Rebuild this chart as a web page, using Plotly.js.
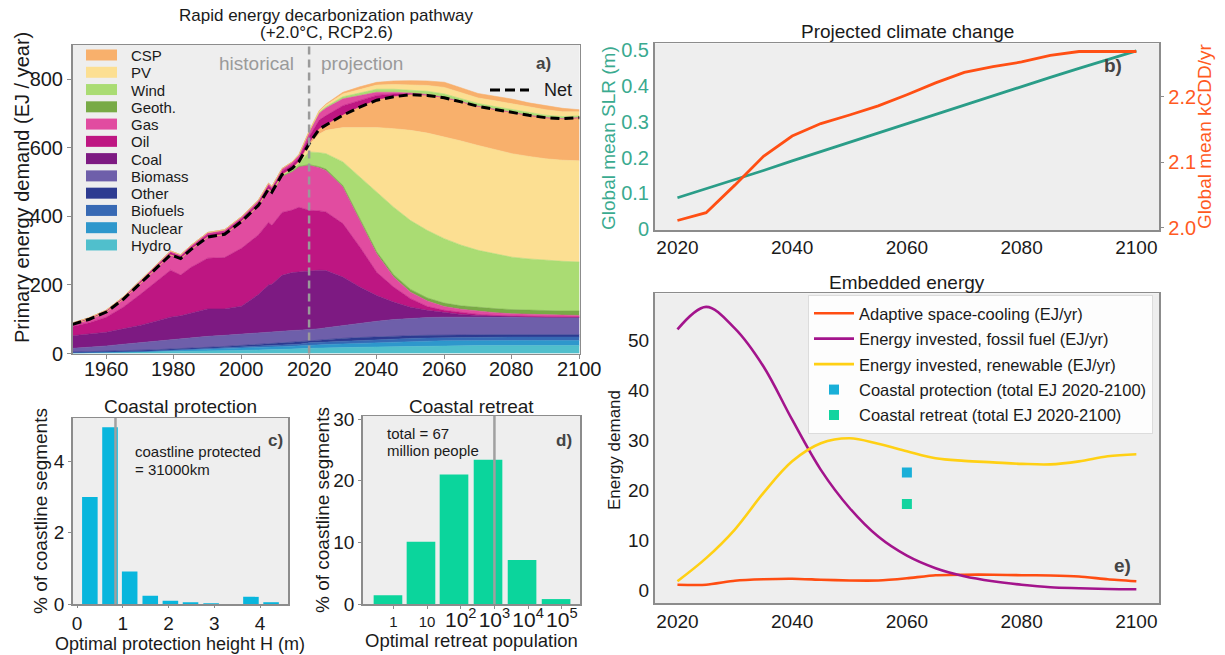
<!DOCTYPE html>
<html>
<head>
<meta charset="utf-8">
<script src="https://cdn.plot.ly/plotly-3.0.1.min.js"></script>
<style>html,body{margin:0;padding:0;background:#fff;}#chart{width:1225px;height:655px;}</style>
</head>
<body>
<div id="chart"></div>
<script>
// ---------- Panel a: primary energy (EJ / year) ----------
const years = [1950,1955,1960,1965,1970,1975,1979,1982,1985,1990,1995,2000,2005,2008,2009,2012,2015,2017,2020,2023,2025,2030,2035,2040,2045,2050,2055,2060,2065,2070,2075,2080,2085,2090,2095,2100];
const hydro    = [2,2.5,3,4,5,6,7,7,7.5,8,8.5,9,10,10.5,10.7,11.5,12.5,13.5,15,16,16.5,17,18,19,20,21,21.5,22,22.5,23,23,23,23,23,23,23];
const nuclear  = [0,0,0,0.2,0.5,1.5,2,3.5,4.5,6,7.5,8,8.5,8.5,8.6,8.5,8.5,8,9,9.5,9.5,11,12,13,13.5,14,14.5,15,15,15,15,15,15,15,15,15];
const biofuels = [0,0,0,0.2,0.5,0.5,1,1,1,1,1,2,2.5,3.5,3.7,5,5.5,5.5,7,7,7.5,8,8.5,9,9,9,9,9,9.5,9.5,10,10,10,10,10,10];
const other    = [2,2.5,3,3.1,3,3,3,2.5,2.5,3,3.5,4,5,5.5,5.7,6,6.5,7.5,7,8,8,8,8,8,8,8,8,8,7.5,7.5,7,7,7,7,7,7];
const biomass  = [11,13,16,19.5,23,26,28,30,30.5,32,32.5,34,34,34,33.8,34,34,33.5,31,31.5,33.5,38,41.5,45,48.5,51,52,52,51.5,51,51,51,51,51,51,51];
const coal     = [37,39,40,45,50,58,65,66,72,80,77,81,112,138,139.5,163,169,170,173,171,167,141,106,75,51,32,21,13,8,5,3,2,1,0.5,0.3,0.2];
const oil      = [27,33,44,63,90,117,137,119,133,148,150,169,174,182.5,171.8,183.5,182.5,188.5,176,173,171,156,117,68,44,25,11,7,5,3,2,1,1,0.5,0.3,0.3];
const gas      = [6,10,15,23,32,40,45,48,52,62,68,78,85,95,94,105,112,118,131,126,121,107,77,54,29,19,16,11,10,9,8,7,6,6,5.4,4.5];
const geoth    = [0,0,0,0,0,0,0,0,0,0,0,0,0.3,0.5,0.5,1,1,1.5,2,3,4,4,5,6,7,8,9,10,10,11,12,12,12,12,12,13];
const wind     = [0,0,0,0,0,0,0,0,0,0,0,0,0.5,1.5,2,3,5,8,37,41,45,69,122,174,197,201,197,188,177,167,159,153,150,147,145,143];
const pv       = [0,0,0,0,0,0,0,0,0,0,0,0,0,0.5,0.7,1.5,3,5,20,54,68,100,145,188,229,263,284,297,304,306,305,302,299,296,295,295];
const csp      = [0,0,0,0,0,0,0,0,0,0,0,0,0,0,0,0,0.5,1,4,15,15,36,59,80,93,104,110,114,114,114,117,120,120,120,121,126];
const netDemand= [85,100,121,158,204,252,288,277,303,340,348,385,432,480,471,522,540,560,612,655,666,695,719,739,749,755,753,746,734,721,712,703,695,688,685,688];
// energy invested, drawn above the net line
const invOil   = [2,2.5,3,4,5,6,6.5,6.5,7,7.5,7.5,8,9,9.5,9.5,10,10.5,11,20,26,28,28,20,14,8,3,1.5,0.8,0.5,0.3,0.2,0.1,0.1,0.1,0.1,0.1];
const invGas   = [2,2,2.5,3,3.5,4,4.5,4.5,5,5.5,5.5,6,6.5,7,7,7.5,8,8.5,14,20,22,20,14,9,5,2,1,0.5,0.3,0.2,0.1,0.1,0.1,0.1,0.1,0.1];
const invWind  = [0,0,0,0,0,0,0,0,0,0,0,0,0,0,0,0,0.3,0.5,1,3,4,6,8,9,9,9,9.5,10,9,8,8,8,7,7,6,5];
const invPV    = [0,0,0,0,0,0,0,0,0,0,0,0,0,0,0,0,0.2,0.5,1,3,5,8,10,12,14,15,17,19,17,16,17,17,16,16,14,12];
const invCSP   = [0,0,0,0,0,0,0,0,0,0,0,0,0,0,0,0,0,0.1,0.5,2,3,5,7,8,10,12,13,15,14,13,13,14,13,12,10,6];
const sourceNames = ['Hydro','Nuclear','Biofuels','Other','Biomass','Coal','Oil','Gas','Geoth.','Wind','PV','CSP'];
const aTicksX = [1960,1980,2000,2020,2040,2060,2080,2100];
const aTicksY = [0,200,400,600,800];

// ---------- Panel b: projected climate change ----------
const climYears = [2020,2025,2030,2035,2040,2045,2050,2055,2060,2065,2070,2075,2080,2085,2090,2095,2100];
const slr  = [0.088,0.113,0.138,0.164,0.191,0.217,0.243,0.269,0.296,0.322,0.348,0.374,0.399,0.424,0.449,0.474,0.498];
const kcdd = [2.011,2.023,2.065,2.109,2.140,2.159,2.172,2.186,2.203,2.221,2.237,2.246,2.253,2.263,2.269,2.269,2.269];
const slrTicks = [0,0.1,0.2,0.3,0.4,0.5];
const cddTicks = [2.0,2.1,2.2];
const projTicks = [2020,2040,2060,2080,2100];

// ---------- Panel c: coastal protection ----------
const protHeight = [0.28,0.72,1.15,1.6,2.04,2.48,2.93,3.37,3.8,4.24];
const protPct    = [3.0,4.96,0.91,0.23,0.094,0.047,0.02,0,0.2,0.05];
const protMedian = 0.84;

// ---------- Panel d: coastal retreat ----------
const retreatBin = [-0.16,0.82,1.8,2.81,3.82,4.83];
const retreatPct = [1.4,10.1,21.0,23.4,7.15,0.8];
const retreatMedian = 3.0;
const retreatTickVals = [0,1,2,3,4,5];
const retreatTickText = ['1','10','<span style="font-size:21px">10<sup>2</sup></span>','<span style="font-size:21px">10<sup>3</sup></span>','<span style="font-size:21px">10<sup>4</sup></span>','<span style="font-size:21px">10<sup>5</sup></span>'];

// ---------- Panel e: embedded energy ----------
const eYears    = [2020,2025,2030,2035,2040,2045,2050,2055,2060,2065,2070,2075,2080,2085,2090,2095,2100];
const cooling   = [1.2,1.2,2.0,2.3,2.4,2.2,2.05,2.05,2.5,3.1,3.2,3.2,3.1,3.05,2.85,2.3,1.9];
const fossilInv = [52.1,56.6,52.3,44.7,34.1,24.1,16.5,10.8,7.0,4.5,2.9,1.9,1.2,0.7,0.5,0.35,0.3];
const renewInv  = [1.9,6.5,12.2,19.5,25.8,29.4,30.4,29.3,27.8,26.4,25.9,25.6,25.3,25.2,25.8,26.8,27.2];
const coastalYear = [2060];
const protectionEJ = [23.6];
const retreatEJ = [17.3];

// ---------- styling ----------
const FONT = 'Liberation Sans, Arial, Helvetica, sans-serif';
const W = 1225, H = 655;
const fx = p => p / W;
const fy = p => 1 - p / H;
const colors = {Hydro:'#50bfcc',Nuclear:'#2e97cc',Biofuels:'#3769b4',Other:'#2d3b91',Biomass:'#6e5faa',Coal:'#7d1a82',Oil:'#be1682',Gas:'#e14ca0','Geoth.':'#78aa46',Wind:'#aadc73',PV:'#fcdf92',CSP:'#f8b06c'};
const teal = '#2a9d88', tealText = '#3aaa8f', orange = '#ff4f14';

const traces = [];
const layers = [hydro,nuclear,biofuels,other,biomass,coal,oil,gas,geoth,wind,pv,csp];
layers.forEach((arr,i) => {
  const c = colors[sourceNames[i]];
  traces.push({x:years, y:arr, type:'scatter', mode:'lines', stackgroup:'a', name:sourceNames[i],
    line:{width:0.6, color:c}, fillcolor:c, showlegend:false, hoverinfo:'skip', xaxis:'x', yaxis:'y'});
});
[[invOil,'Oil'],[invGas,'Gas'],[invWind,'Wind'],[invPV,'PV'],[invCSP,'CSP']].forEach(([arr,nm]) => {
  const c = colors[nm];
  traces.push({x:years, y:arr, type:'scatter', mode:'lines', stackgroup:'a', name:nm+' invested',
    line:{width:0.6, color:c}, fillcolor:c, showlegend:false, hoverinfo:'skip', xaxis:'x', yaxis:'y'});
});
traces.push({x:years, y:netDemand, type:'scatter', mode:'lines', name:'Net', line:{color:'#000', width:3, dash:'9px,5px'}, showlegend:false, xaxis:'x', yaxis:'y'});

// panel b
traces.push({x:climYears, y:slr, type:'scatter', mode:'lines', name:'SLR', line:{color:teal, width:2.8}, showlegend:false, xaxis:'x2', yaxis:'y2'});
traces.push({x:climYears, y:kcdd, type:'scatter', mode:'lines', name:'kCDD', line:{color:orange, width:2.8}, showlegend:false, xaxis:'x2', yaxis:'y3'});

// panel c
traces.push({x:protHeight, y:protPct, type:'bar', name:'protection', width:0.34, marker:{color:'#08b6dd', line:{width:0}}, showlegend:false, xaxis:'x4', yaxis:'y4'});
// panel d
traces.push({x:retreatBin, y:retreatPct, type:'bar', name:'retreat', width:0.85, marker:{color:'#0bd59c', line:{width:0}}, showlegend:false, xaxis:'x5', yaxis:'y5'});

// panel e
traces.push({x:eYears, y:cooling, type:'scatter', mode:'lines', name:'Adaptive space-cooling (EJ/yr)', legendgroup:'g1', line:{color:'#ff4d12', width:2.6, shape:'spline', smoothing:0.6}, xaxis:'x6', yaxis:'y6'});
traces.push({x:eYears, y:fossilInv, type:'scatter', mode:'lines', name:'Energy invested, fossil fuel (EJ/yr)', legendgroup:'g2', line:{color:'#a3148c', width:2.6, shape:'spline'}, xaxis:'x6', yaxis:'y6'});
traces.push({x:eYears, y:renewInv, type:'scatter', mode:'lines', name:'Energy invested, renewable (EJ/yr)', legendgroup:'g3', line:{color:'#ffd014', width:2.6, shape:'spline'}, xaxis:'x6', yaxis:'y6'});
traces.push({x:coastalYear, y:protectionEJ, type:'scatter', mode:'markers', name:'Coastal protection (total EJ 2020-2100)', legendgroup:'g4', marker:{symbol:'square', size:10, color:'#19afd8'}, xaxis:'x6', yaxis:'y6'});
traces.push({x:coastalYear, y:retreatEJ, type:'scatter', mode:'markers', name:'Coastal retreat (total EJ 2020-2100)', legendgroup:'g5', marker:{symbol:'square', size:10, color:'#12d49f'}, xaxis:'x6', yaxis:'y6'});

const frame = {showline:true, mirror:true, linecolor:'#8c8c8c', linewidth:1.5, showgrid:false, zeroline:false, fixedrange:true};
const tf = (s,c) => ({family:FONT, size:s, color:c||'#1a1a1a'});

const layout = {
  width:W, height:H, margin:{l:0,r:0,t:0,b:0}, paper_bgcolor:'#ffffff', plot_bgcolor:'#eeeeee',
  font:{family:FONT, color:'#1a1a1a'}, showlegend:true,
  legend:{x:fx(808), y:fy(295), xanchor:'left', yanchor:'top', bgcolor:'rgba(255,255,255,0.85)', bordercolor:'#dcdcdc', borderwidth:1,
          font:tf(16.5), tracegroupgap:1, itemwidth:40},
  // panel a x tick labels are drawn as annotations on the x axis (see below) to sit close to the frame
  xaxis:Object.assign({}, frame, {domain:[fx(72.5),fx(579.5)], range:[1950,2100], anchor:'y', tickvals:aTicksX, ticks:'outside', ticklen:4, tickcolor:'#8c8c8c', showticklabels:false}),
  yaxis:Object.assign({}, frame, {domain:[fy(353.5),fy(45)], range:[0,900], anchor:'x', tickvals:aTicksY, ticks:'outside', ticklen:4, tickcolor:'#8c8c8c', tickfont:tf(20)}),
  xaxis2:Object.assign({}, frame, {domain:[fx(654.5),fx(1159.3)], range:[2016,2104], anchor:'y2', tickvals:projTicks, ticks:'', tickfont:tf(19), tickangle:0}),
  yaxis2:Object.assign({}, frame, {domain:[fy(230),fy(43.3)], range:[-0.002,0.519], anchor:'x2', tickvals:slrTicks, ticks:'', tickfont:tf(20,tealText)}),
  yaxis3:{overlaying:'y2', side:'right', anchor:'x2', range:[1.9965,2.2815], tickvals:cddTicks, tickformat:'.1f', showgrid:false, zeroline:false, showline:false,
          ticks:'outside', ticklen:4, tickcolor:'#8c8c8c', tickfont:tf(20,'#ff5a1f'), fixedrange:true},
  xaxis4:Object.assign({}, frame, {domain:[fx(72.7),fx(288)], range:[-0.095,4.61], anchor:'y4', tickvals:[0,1,2,3,4], ticks:'outside', ticklen:2, tickcolor:'#8c8c8c', tickfont:tf(19), tickangle:0}),
  yaxis4:Object.assign({}, frame, {domain:[fy(604),fy(418)], range:[0,5.22], anchor:'x4', tickvals:[0,2,4], ticks:'outside', ticklen:3, tickcolor:'#8c8c8c', tickfont:tf(19)}),
  xaxis5:Object.assign({}, frame, {domain:[fx(362.7),fx(580)], range:[-0.91,5.54], anchor:'y5', tickvals:retreatTickVals, ticktext:retreatTickText, ticks:'outside', ticklen:3, tickcolor:'#8c8c8c', tickfont:tf(15), tickangle:0}),
  yaxis5:Object.assign({}, frame, {domain:[fy(604),fy(416)], range:[0,30.5], anchor:'x5', tickvals:[0,10,20,30], ticks:'outside', ticklen:3, tickcolor:'#8c8c8c', tickfont:tf(19)}),
  xaxis6:Object.assign({}, frame, {domain:[fx(654.5),fx(1159.3)], range:[2016,2104], anchor:'y6', tickvals:projTicks, ticks:'', tickfont:tf(19), tickangle:0}),
  yaxis6:Object.assign({}, frame, {domain:[fy(603.3),fy(293.3)], range:[-2.5,59.3], anchor:'x6', tickvals:[0,10,20,30,40,50], ticks:'', tickfont:tf(19)}),
  shapes:[], annotations:[]
};

// vertical reference lines
layout.shapes.push({type:'line', xref:'x', yref:'y domain', x0:2020, x1:2020, y0:0, y1:1, line:{color:'#9a9a9a', width:2.5, dash:'8px,5px'}});
layout.shapes.push({type:'line', xref:'x4', yref:'y4 domain', x0:protMedian, x1:protMedian, y0:0, y1:1, line:{color:'#a0a0a0', width:2.5}});
layout.shapes.push({type:'line', xref:'x5', yref:'y5 domain', x0:retreatMedian, x1:retreatMedian, y0:0, y1:1, line:{color:'#a0a0a0', width:2.5}});

function ann(text, x, y, o) {
  o = o || {};
  layout.annotations.push({text:text, xref:'paper', yref:'paper', x:fx(x), y:fy(y), showarrow:false,
    xanchor:o.xa||'center', yanchor:'middle', textangle:o.angle||0,
    font:{family:FONT, size:o.size||19, color:o.color||'#1a1a1a'}});
}

// panel a x tick labels, placed on the x axis scale
aTicksX.forEach(v => {
  layout.annotations.push({text:String(v), xref:'x', yref:'paper', x:v, y:fy(369), showarrow:false,
    xanchor:'center', yanchor:'middle', font:{family:FONT, size:20, color:'#1a1a1a'}});
});

// panel a legend (manual patches)
const legendOrder = ['CSP','PV','Wind','Geoth.','Gas','Oil','Coal','Biomass','Other','Biofuels','Nuclear','Hydro'];
legendOrder.forEach((nm,i) => {
  const cy = 55 + 17.27*i;
  layout.shapes.push({type:'rect', xref:'paper', yref:'paper', x0:fx(86), x1:fx(117), y0:fy(cy+5.5), y1:fy(cy-5.5), fillcolor:colors[nm], line:{width:0}});
  ann(nm, 129, cy+0.5, {xa:'left', size:15});
});
// Net legend
layout.shapes.push({type:'line', xref:'paper', yref:'paper', x0:fx(490), x1:fx(529), y0:fy(90), y1:fy(90), line:{color:'#000', width:3, dash:'10px,5px'}});
ann('Net', 542, 90, {xa:'left', size:18});

// titles
ann('Rapid energy decarbonization pathway', 326, 15, {size:17});
ann('(+2.0°C, RCP2.6)', 326, 33, {size:17});
ann('Projected climate change', 907, 32, {size:19});
ann('Coastal protection', 180, 406, {size:19});
ann('Coastal retreat', 471, 406, {size:19});
ann('Embedded energy', 907, 282, {size:19});

// axis titles
ann('Primary energy demand (EJ / year)', 22, 188, {size:20, angle:-90});
ann('Global mean SLR (m)', 608, 138, {size:19, angle:-90, color:tealText});
ann('Global mean kCDD/yr', 1204, 137, {size:19, angle:-90, color:'#ff5a1f'});
ann('% of coastline segments', 40, 511, {size:19, angle:-90});
ann('Optimal protection height H (m)', 180, 643.5, {size:18});
ann('% of coastline segments', 322, 510, {size:19, angle:-90});
ann('Optimal retreat population', 471, 640, {size:18.5});
ann('Energy demand', 614, 450, {size:17, angle:-90});

// in-panel notes
ann('historical', 256, 63, {size:19, color:'#9a9a9a'});
ann('projection', 362, 63, {size:19, color:'#9a9a9a'});
ann('<b>a)</b>', 543, 63, {size:17, color:'#444'});
ann('<b>b)</b>', 1113, 65, {size:19, color:'#444'});
ann('<b>c)</b>', 275, 440, {size:17, color:'#444'});
ann('coastline protected', 133, 451, {xa:'left', size:15});
ann('= 31000km', 133, 469, {xa:'left', size:15});
ann('<b>d)</b>', 564, 440, {size:17, color:'#444'});
ann('total = 67', 385, 433, {xa:'left', size:15});
ann('million people', 385, 450, {xa:'left', size:15});
ann('<b>e)</b>', 1122, 565, {size:19, color:'#444'});

Plotly.newPlot('chart', traces, layout, {displayModeBar:false, staticPlot:true});
</script>
</body>
</html>
